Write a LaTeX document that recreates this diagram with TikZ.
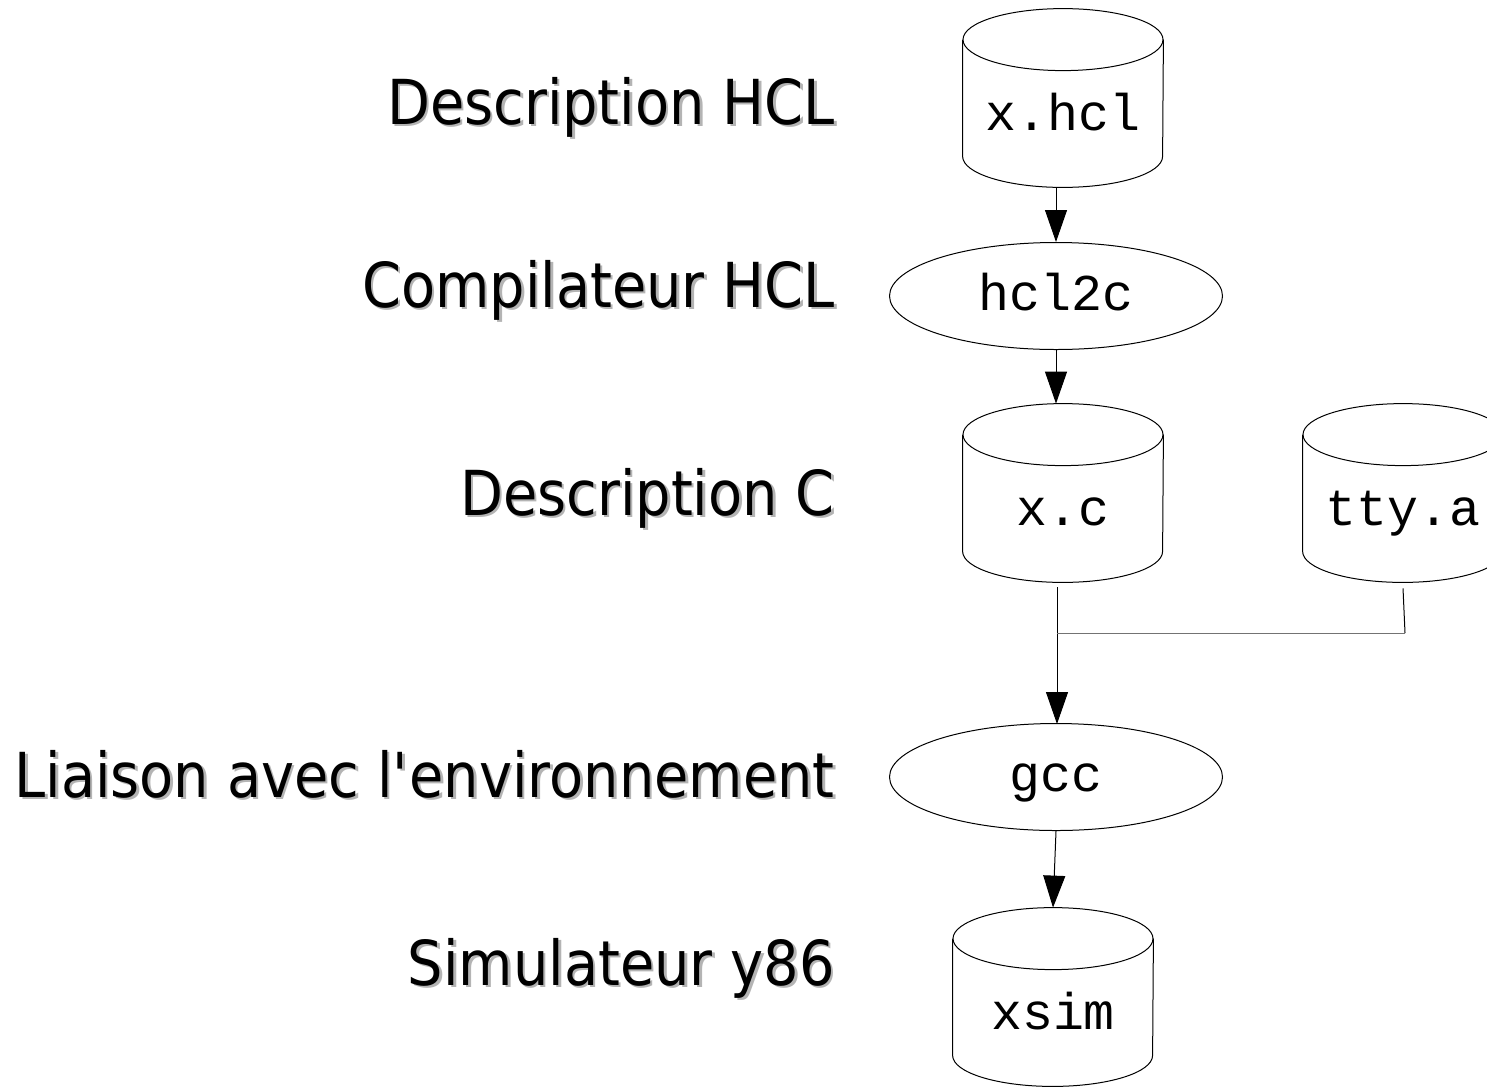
\documentclass[tikz,border=0pt]{standalone}
\usepackage{fontspec}
\usetikzlibrary{arrows.meta,shapes.geometric}
\newfontfamily\labfont[FakeStretch=0.90]{DejaVu Sans}
\newfontfamily\codefont{Liberation Mono}
\definecolor{shadowgray}{HTML}{B4B4B4}
\tikzset{
  cyl/.style={minimum width=100pt, minimum height=89pt, inner sep=0pt,
    text height=32pt, text depth=0pt, font=\codefont\fontsize{25.8pt}{30pt}\selectfont},
  prog/.style={ellipse, draw, line width=0.5pt, minimum width=166.5pt, minimum height=53.5pt,
    inner sep=0pt, text height=14pt, text depth=0pt,
    font=\codefont\fontsize{25.8pt}{30pt}\selectfont},
  stage/.style={anchor=base east, inner sep=0pt, font=\labfont\fontsize{31pt}{37pt}\selectfont},
  stageshadow/.style={stage, text=shadowgray, xshift=1.3pt, yshift=-1.3pt},
  flow/.style={line width=0.5pt, -{Triangle[width=11pt,length=16pt]}},
  link/.style={line width=0.5pt}
}
% draws the outline of a cylinder around a named node
\newcommand{\cylout}[1]{%
  \draw[line width=0.5pt] ([yshift=-15.5pt]#1.north west) -- ([yshift=15.5pt]#1.south west)
    arc[start angle=180, end angle=360, x radius=50pt, y radius=15.5pt]
    -- ([yshift=-15.5pt]#1.north east);
  \draw[line width=0.5pt] ([yshift=-15.5pt]#1.north) ellipse[x radius=50pt, y radius=15.5pt];
}
\begin{document}
\begin{tikzpicture}[x=0.5pt, y=-0.5pt]
  \useasboundingbox (0,0) rectangle (1487,1088);
  \clip (0,0) rectangle (1487,1088);

  % stage names, with a soft drop shadow
  \foreach \nm/\yy/\txt in {
      s1/124/{Description HCL},
      s2/307/{Compilateur HCL},
      s3/515/{Description C},
      s4/797/{Liaison avec l\textquotesingle environnement},
      s5/985/{Simulateur y86}} {
    \node[stageshadow] (\nm sh) at (835,\yy) {\txt};
    \node[stage] (\nm) at (835,\yy) {\txt};
  }

  % files and programs
  \node[cyl] (xhcl) at (1063,98) {x.hcl};
  \node[prog] (hcl2c) at (1056,296) {hcl2c};
  \node[cyl] (xc) at (1063,493) {x.c};
  \node[cyl] (tty) at (1403,493) {tty.a};
  \node[prog] (gcc) at (1056,777) {gcc};
  \node[cyl] (xsim) at (1053,997) {xsim};

  \cylout{xhcl}
  \cylout{xc}
  \cylout{tty}
  \cylout{xsim}

  % connectors
  \coordinate (ttyturn) at (1405,633);
  \coordinate (merge) at (1057,633);
  \coordinate (xcout) at (1057,587);
  \coordinate (gccin) at (1057,724);
  \draw[flow] (xhcl.south -| hcl2c.north) -- (hcl2c.north);
  \draw[flow] (hcl2c.south) -- (hcl2c.south |- xc.north);
  \draw[flow] (xcout) -- (gccin);
  \draw[link] ([yshift=-3pt]tty.south) -- (ttyturn);
  \draw[link, black!55] (ttyturn) -- (merge);
  \draw[flow] (gcc.south) -- (xsim.north);
\end{tikzpicture}
\end{document}
